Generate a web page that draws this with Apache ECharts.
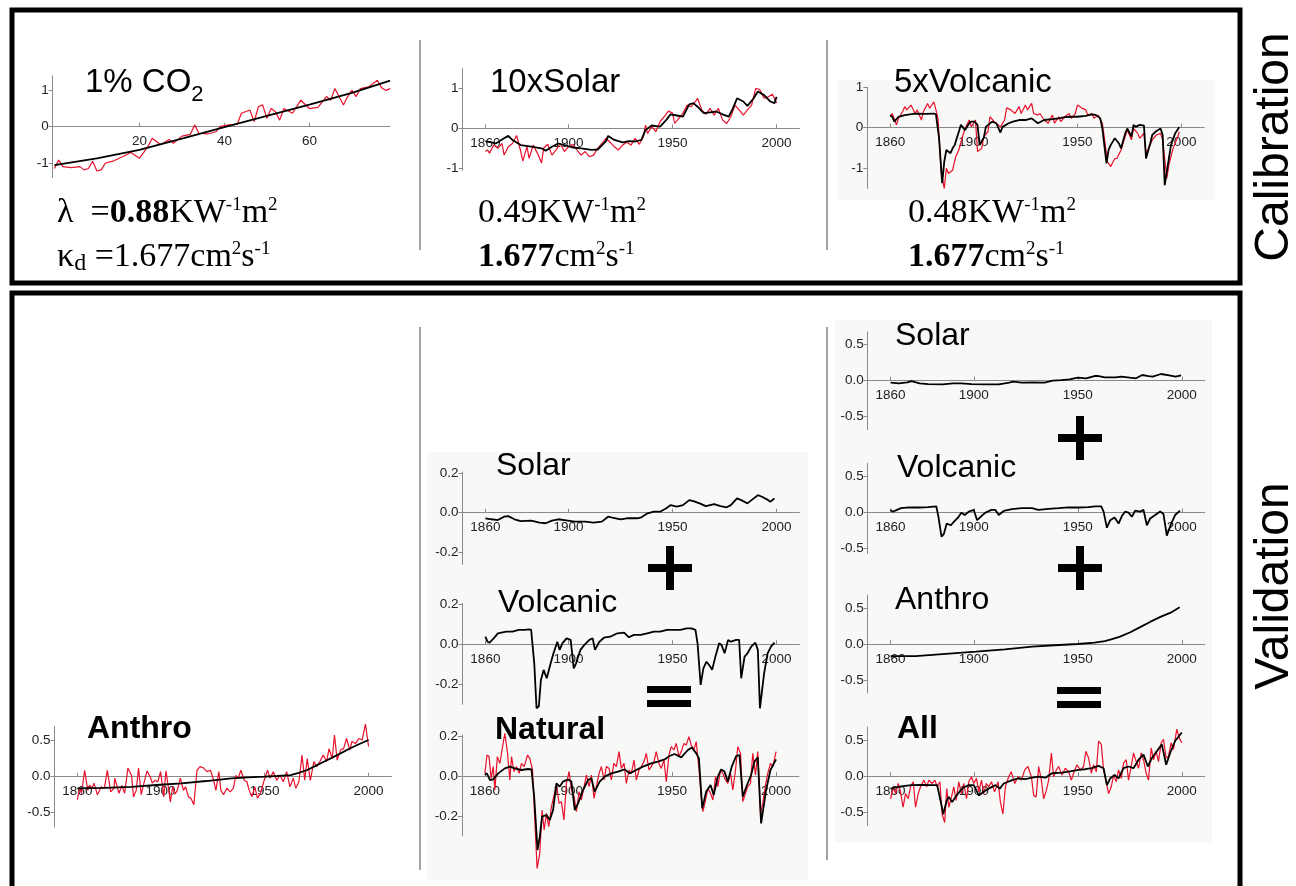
<!DOCTYPE html>
<html><head><meta charset="utf-8">
<script src="https://cdn.jsdelivr.net/npm/echarts@6/dist/echarts.min.js"></script>
<style>html,body{margin:0;padding:0;background:#fff}#c{width:1296px;height:886px}</style>
</head><body><div id="c"></div><script>
// ---------- tick labels ----------
const co2Ticks = [20, 40, 60];
const yearTicks = [1860, 1900, 1950, 2000];
const calTicks = [-1, 0, 1];
const halfTicks = [-0.5, 0, 0.5];
const fifthTicks = [-0.2, 0, 0.2];

// ---------- calibration: 1% CO2 ----------
const co2Red = [[0,-1.15],[1,-0.92],[2,-1.1],[4,-1.13],[6,-1.1],[7,-1.19],[8,-1.15],[9,-0.95],[10,-1.22],[11,-1.19],[12,-1.0],[14,-0.94],[16,-0.83],[18,-0.71],[20,-0.87],[22,-0.55],[23,-0.32],[25,-0.5],[27,-0.35],[28,-0.46],[30,-0.26],[32,-0.21],[33,0.05],[34,-0.18],[36,-0.2],[38,-0.14],[39,0],[41,0.05],[43,0.06],[44,0.37],[46,0.46],[47,0.14],[48,0.55],[49,0.6],[50,0.23],[51,0.5],[52,0.41],[53,0.18],[54,0.5],[56,0.37],[58,0.73],[60,0.5],[62,0.53],[64,0.83],[65,0.73],[66,1.05],[68,0.6],[69,0.83],[70,1.0],[71,0.83],[72,1.05],[74,1.1],[76,1.28],[77,1.07],[78,1.0],[79,1.05]];
const co2Black = [[0,-1.06],[10,-0.87],[20,-0.64],[30,-0.33],[40,-0.01],[50,0.3],[60,0.61],[70,0.93],[79,1.27]];

// ---------- calibration: 10x Solar ----------
const solar10Red = [[1860,-0.58],[1861,-0.54],[1862,-0.62],[1864,-0.42],[1866,-0.5],[1868,-0.38],[1869,-0.67],[1871,-0.46],[1873,-0.38],[1875,-0.18],[1877,-0.58],[1878,-0.82],[1880,-0.46],[1881,-0.75],[1883,-0.42],[1885,-0.62],[1887,-0.87],[1888,-0.5],[1890,-0.4],[1892,-0.67],[1894,-0.54],[1896,-0.38],[1898,-0.58],[1900,-0.46],[1902,-0.4],[1904,-0.54],[1906,-0.67],[1908,-0.58],[1910,-0.71],[1912,-0.67],[1914,-0.5],[1916,-0.38],[1918,-0.25],[1920,-0.35],[1922,-0.46],[1924,-0.54],[1926,-0.42],[1928,-0.35],[1930,-0.42],[1932,-0.25],[1934,-0.4],[1936,-0.21],[1937,0.08],[1938,-0.13],[1940,0.04],[1942,-0.08],[1944,0.17],[1946,0.29],[1948,0.43],[1950,0.38],[1951,0.12],[1953,0.25],[1955,0.38],[1957,0.58],[1959,0.54],[1961,0.67],[1962,0.75],[1964,0.46],[1966,0.35],[1968,0.5],[1970,0.33],[1972,0.5],[1974,0.21],[1976,0.12],[1978,0.29],[1980,0.58],[1982,0.46],[1984,0.33],[1986,0.46],[1988,0.58],[1990,1.0],[1992,0.96],[1994,0.75],[1996,0.79],[1998,0.85],[2000,0.63]];
const solar10Black = [[1860,-0.32],[1863,-0.35],[1865,-0.38],[1869,-0.25],[1871,-0.19],[1873,-0.29],[1877,-0.42],[1882,-0.46],[1887,-0.5],[1889,-0.56],[1892,-0.46],[1895,-0.38],[1898,-0.42],[1902,-0.48],[1906,-0.5],[1911,-0.54],[1914,-0.53],[1918,-0.32],[1919,-0.19],[1922,-0.29],[1926,-0.35],[1929,-0.32],[1932,-0.33],[1935,-0.29],[1937,-0.04],[1940,0.07],[1944,0.04],[1947,0.21],[1949,0.35],[1952,0.32],[1955,0.29],[1958,0.6],[1960,0.63],[1962,0.54],[1965,0.38],[1968,0.4],[1971,0.42],[1974,0.35],[1977,0.29],[1979,0.5],[1981,0.75],[1984,0.67],[1986,0.56],[1989,0.75],[1991,0.92],[1994,0.83],[1997,0.67],[1999,0.63],[2000,0.79]];

// ---------- calibration: 5x Volcanic ----------
const volc5Red = [[1860,0.27],[1861,0.35],[1863,0.07],[1864,0.23],[1866,0.4],[1867,0.52],[1868,0.44],[1870,0.56],[1872,0.35],[1873,0.44],[1875,0.19],[1876,0.4],[1878,0.6],[1879,0.48],[1881,0.64],[1882,0.44],[1883,0.23],[1884.5,-1.09],[1886,-1.5],[1887,-1.0],[1888,-1.13],[1890,-1.05],[1891.5,-0.72],[1893,-0.55],[1895,-0.18],[1896,-0.02],[1898,0.19],[1899,0.02],[1901,0.19],[1902,-0.59],[1904,-0.51],[1905,-0.22],[1907,-0.1],[1908,0.27],[1910,0.15],[1912,0.07],[1913,0.02],[1915,0.19],[1916,0.49],[1918,0.44],[1920,0.35],[1922,0.52],[1923,0.35],[1925,0.56],[1926,0.44],[1928,0.6],[1929,0.35],[1931,0.31],[1932,0.35],[1934,0.19],[1936,0.11],[1938,0.31],[1939,0.11],[1941,0.27],[1942,0.15],[1944,0.27],[1946,0.35],[1947,0.23],[1949,0.35],[1950,0.56],[1952,0.49],[1954,0.44],[1955,0.31],[1957,0.35],[1958,0.23],[1960,0.31],[1962,0.11],[1963,-0.26],[1964.5,-0.84],[1966,-0.96],[1968,-0.76],[1969,-0.76],[1971,-0.55],[1972.5,-0.3],[1974,-0.06],[1976,-0.3],[1977,-0.02],[1979,-0.14],[1980,-0.26],[1982,-0.14],[1983,-0.63],[1985,-0.43],[1986,-0.3],[1988,-0.18],[1990,-0.14],[1991,-0.3],[1993,-1.25],[1994,-0.92],[1996,-0.51],[1998,-0.26],[1999,-0.1]];
const volc5Black = [[1860,0.31],[1861,0.27],[1862,0.15],[1864,0.27],[1867,0.31],[1872,0.35],[1877,0.34],[1881,0.35],[1882,0.33],[1883.5,-0.26],[1885,-1.37],[1886,-0.84],[1887,-0.55],[1889,-0.63],[1890,-0.51],[1891,-0.43],[1893,-0.1],[1894,0.07],[1896,-0.06],[1898,0.11],[1899,0.15],[1900.5,0.15],[1902,0.07],[1903,-0.43],[1905,-0.25],[1906,0.02],[1909,0.15],[1911,0.11],[1913,-0.12],[1914,0.02],[1917,0.11],[1919,0.15],[1922,0.19],[1925,0.19],[1928,0.23],[1931,0.11],[1934,0.19],[1938,0.21],[1941,0.23],[1944,0.26],[1947,0.27],[1950,0.27],[1954,0.29],[1957,0.33],[1959,0.31],[1961,0.23],[1962,-0.02],[1964,-0.88],[1965,-0.55],[1966,-0.43],[1968,-0.26],[1970,-0.39],[1971,-0.51],[1973,-0.14],[1974,-0.02],[1976,-0.22],[1977,0.07],[1978,0.02],[1980,0.07],[1982,0.05],[1983,-0.76],[1985,-0.39],[1986,-0.18],[1988,-0.08],[1990,-0.02],[1991,-0.18],[1992,-1.42],[1994,-0.76],[1995,-0.43],[1997,-0.14],[1999,0.02]];

// ---------- validation: Anthro (left) ----------
const anthroRed = [[1860,-0.32],[1861,-0.16],[1862,-0.23],[1863.5,0.09],[1865,-0.19],[1866,-0.12],[1867,-0.16],[1868,-0.09],[1869.6,-0.25],[1871.5,-0.14],[1873,-0.16],[1874.4,0.09],[1876,-0.21],[1877.6,-0.16],[1878,-0.02],[1880,-0.23],[1881.4,-0.12],[1882.7,-0.23],[1884.3,0.12],[1886,0.02],[1887,-0.28],[1888.3,-0.19],[1889.4,0.12],[1890.7,-0.25],[1892,-0.09],[1893.5,0.08],[1895,0],[1896,-0.09],[1897.4,-0.05],[1898.7,-0.07],[1900,0.07],[1901.5,-0.28],[1902.6,0.08],[1903.8,-0.16],[1904.7,-0.35],[1905.8,-0.14],[1907,-0.24],[1908,-0.19],[1909.5,-0.02],[1911,-0.19],[1912,-0.14],[1913.4,-0.28],[1914.6,-0.3],[1916,-0.39],[1917.5,0.09],[1919,0.14],[1920.7,0.12],[1922.3,0.07],[1924,0.09],[1925.5,-0.05],[1926.6,-0.19],[1928,0.07],[1929,-0.19],[1930.3,-0.25],[1931.9,-0.16],[1933.5,-0.21],[1935,-0.16],[1936.2,0.02],[1937.3,-0.02],[1938.6,0.09],[1940.2,-0.05],[1941.5,-0.07],[1942.6,-0.19],[1943.9,-0.28],[1945.3,-0.14],[1946.6,-0.3],[1948,-0.23],[1949.8,-0.05],[1951.4,0.09],[1952.6,-0.02],[1954.2,0.07],[1955.8,-0.05],[1957.4,0.02],[1959,-0.07],[1960.6,0.07],[1962.2,-0.14],[1963.8,-0.02],[1965,-0.16],[1966.5,-0.07],[1968,0.3],[1969.3,-0.05],[1970.5,0.25],[1972,-0.05],[1973.7,0.21],[1975,0.14],[1976.6,0.21],[1978.2,0.3],[1979.8,0.21],[1981,0.39],[1982.5,0.25],[1983.6,0.58],[1984.9,0.23],[1986.5,0.37],[1988,0.39],[1989.4,0.53],[1991,0.37],[1992,0.49],[1993.7,0.46],[1995.3,0.53],[1996.9,0.51],[1998.5,0.73],[2000,0.42]];
const anthroBlack = [[1860,-0.162],[1873,-0.155],[1886,-0.14],[1898,-0.115],[1910,-0.093],[1922,-0.06],[1934,-0.023],[1942,-0.01],[1950,0],[1956,0.01],[1962.5,0.023],[1966,0.05],[1970.5,0.093],[1974.5,0.15],[1978.5,0.208],[1982.5,0.265],[1986.5,0.324],[1990.5,0.385],[1994.5,0.44],[2000,0.51]];

// ---------- validation: middle column ----------
const solarMid = [[1860,-0.028],[1863,-0.033],[1866,-0.037],[1869,-0.02],[1871,-0.017],[1874,-0.033],[1877,-0.042],[1882,-0.04],[1886,-0.05],[1889,-0.053],[1892,-0.04],[1895,-0.033],[1898,-0.037],[1903,-0.045],[1908,-0.045],[1912,-0.05],[1916,-0.045],[1919,-0.02],[1921,-0.025],[1925,-0.033],[1928,-0.028],[1933,-0.028],[1935,-0.023],[1938,-0.003],[1941,0.005],[1944,0.005],[1947,0.022],[1949,0.038],[1952,0.03],[1955,0.038],[1958,0.063],[1960,0.058],[1963,0.047],[1966,0.033],[1970,0.043],[1973,0.033],[1976,0.027],[1978,0.038],[1981,0.072],[1983,0.063],[1986,0.047],[1989,0.072],[1991,0.088],[1993,0.08],[1996,0.063],[1997,0.055],[1999,0.072]];
const volcMid = [[1860,0.038],[1861,0.013],[1862,0.008],[1864,0.03],[1866,0.055],[1870,0.063],[1873,0.063],[1876,0.072],[1879,0.072],[1881,0.075],[1882,0.072],[1883.5,-0.095],[1884.6,-0.32],[1885.7,-0.31],[1886.7,-0.178],[1888,-0.128],[1889.5,-0.17],[1891,-0.11],[1892.5,-0.053],[1894.6,0.013],[1895.7,-0.028],[1897,0.005],[1899,0.03],[1901,0.022],[1902.5,-0.12],[1903.6,-0.095],[1905.7,-0.028],[1907.6,-0.003],[1910,0.022],[1911.6,0.03],[1912.7,-0.028],[1914.8,0.013],[1917,0.033],[1920,0.038],[1923.5,0.055],[1926.7,0.058],[1929,0.035],[1931.4,0.047],[1934.6,0.047],[1937.8,0.055],[1941,0.063],[1944,0.063],[1947.3,0.072],[1950.5,0.072],[1953.7,0.072],[1956.8,0.08],[1959,0.08],[1961,0.072],[1962,0.005],[1963.5,-0.203],[1964.8,-0.12],[1966.3,-0.087],[1968,-0.11],[1969,-0.128],[1970.8,-0.053],[1972.4,0.005],[1973.5,-0.003],[1975,-0.045],[1976.7,0.022],[1978,0.013],[1980.6,0.022],[1982,0.022],[1983,-0.17],[1984.6,-0.062],[1986,-0.045],[1987.8,-0.012],[1989.8,0.008],[1991,-0.028],[1992,-0.32],[1994,-0.145],[1995.7,-0.045],[1997.3,-0.012],[1999,0.008]];
const naturalRed = [[1860,0.013],[1861,0.105],[1862,0.097],[1863,-0.012],[1864,0.047],[1864.8,-0.07],[1866,0.097],[1867.2,0.063],[1868.5,0.147],[1869.6,0.213],[1870.9,0.113],[1872,-0.02],[1872.8,0.097],[1874,0.022],[1875.2,0.047],[1876.5,0.013],[1877.6,0.063],[1878.9,0.047],[1880.5,0.105],[1881.6,0.088],[1882.9,0.03],[1884,-0.22],[1885.1,-0.462],[1886.4,-0.387],[1887.5,-0.17],[1888.5,-0.27],[1889.6,-0.187],[1890.7,-0.253],[1892,-0.153],[1893.3,-0.095],[1894.4,-0.045],[1895.7,-0.137],[1896.8,-0.128],[1898,-0.22],[1899.2,-0.037],[1900.5,0.022],[1901.6,-0.07],[1902.9,-0.103],[1904,-0.178],[1905.3,-0.078],[1906.4,-0.12],[1907.7,-0.053],[1908.8,0.005],[1910.1,-0.053],[1911.2,0.005],[1912.5,-0.112],[1913.6,-0.053],[1914.9,0.013],[1916,0.047],[1917.3,-0.02],[1918.4,0.047],[1919.7,0.038],[1920.8,-0.02],[1922,0.063],[1923.2,0.047],[1924.5,0.122],[1925.6,0.038],[1926.9,0.063],[1928,-0.037],[1929.3,0.03],[1930.4,0.013],[1931.7,0.08],[1932.8,-0.02],[1934.1,0.03],[1935.2,0.047],[1936.5,0.072],[1937.6,0.113],[1938.9,0.03],[1940,0.047],[1941.3,0.072],[1942.4,0.122],[1943.7,0.063],[1944.8,0.038],[1946.1,0.08],[1947.2,-0.028],[1948.5,0.105],[1949.6,0.147],[1950.9,0.13],[1952,0.163],[1953.3,0.097],[1954.4,0.122],[1955.7,0.163],[1956.8,0.155],[1958.1,0.197],[1959.2,0.155],[1960.5,0.13],[1961.6,0.172],[1962.9,0.038],[1964,-0.103],[1964.8,-0.178],[1966.1,-0.12],[1967.2,-0.062],[1968.5,-0.087],[1969.6,-0.12],[1970.9,-0.003],[1972,-0.053],[1973.3,0.03],[1974.4,0.013],[1975.7,-0.02],[1976.8,-0.037],[1978.1,0.013],[1979.2,-0.07],[1980.5,0.03],[1981.6,0.147],[1982.9,0.113],[1984,-0.128],[1985.3,-0.087],[1986.4,-0.053],[1987.7,-0.037],[1988.8,0.113],[1990.1,0.005],[1991.2,0.122],[1992.5,-0.187],[1993.6,-0.137],[1994.9,-0.045],[1996,0.013],[1997.3,0.063],[1998.4,0.047],[2000,0.122]];
const naturalBlack = [[1860,0.005],[1861,0.013],[1862.4,-0.02],[1864,-0.017],[1866.4,0.013],[1869.6,0.038],[1872,0.047],[1874.4,0.038],[1877.6,0.03],[1880.8,0.035],[1882.4,0.033],[1883.7,-0.103],[1885.3,-0.37],[1886.4,-0.303],[1887.5,-0.203],[1889.6,-0.195],[1891.2,-0.22],[1892.8,-0.17],[1894.4,-0.037],[1896,-0.053],[1897.6,-0.028],[1900,-0.017],[1901.6,-0.028],[1903.2,-0.17],[1904.8,-0.137],[1907.2,-0.07],[1909.6,-0.02],[1911.2,-0.012],[1912.8,-0.078],[1915.2,-0.028],[1917.6,-0.003],[1920.8,0.013],[1924,0.022],[1927.2,0.033],[1929.6,0.013],[1932.8,0.03],[1936,0.047],[1940,0.063],[1943.2,0.072],[1946.4,0.083],[1948.8,0.1],[1951.2,0.11],[1954.4,0.093],[1957.6,0.13],[1959.5,0.143],[1961.6,0.113],[1962.9,0.088],[1964.5,-0.162],[1966.4,-0.078],[1968.5,-0.045],[1970,-0.095],[1972,-0.003],[1973.6,0.033],[1975.2,0.022],[1976.8,-0.028],[1978.7,0.047],[1980.8,0.1],[1982.4,0.105],[1984,-0.103],[1986,-0.045],[1988,0.005],[1989.6,0.072],[1991.2,0.093],[1992.8,-0.237],[1995.2,-0.07],[1997.3,0.03],[2000,0.083]];

// ---------- validation: right column ----------
const solarRight = [[1860,-0.028],[1864,-0.037],[1868,-0.023],[1870,-0.005],[1874,-0.037],[1878,-0.047],[1885,-0.051],[1890,-0.037],[1894,-0.037],[1899,-0.047],[1906,-0.051],[1912,-0.051],[1917,-0.028],[1919,-0.014],[1923,-0.028],[1928,-0.023],[1934,-0.028],[1938,0],[1942,0.009],[1946,0.019],[1950,0.042],[1954,0.033],[1958,0.065],[1960,0.065],[1963,0.047],[1968,0.047],[1971,0.056],[1975,0.042],[1978,0.033],[1981,0.079],[1984,0.065],[1986,0.056],[1990,0.093],[1994,0.075],[1997,0.056],[1999.7,0.075]];
const volcRight = [[1860,0.033],[1861,0.01],[1862,0.019],[1865,0.057],[1869,0.067],[1874,0.067],[1878,0.071],[1882,0.081],[1883,-0.062],[1884.5,-0.34],[1885.6,-0.3],[1887,-0.157],[1889,-0.18],[1890.4,-0.133],[1892.5,-0.071],[1894,-0.005],[1895.7,-0.038],[1897.6,0.01],[1900,0.033],[1901.6,-0.11],[1903.7,-0.052],[1905.6,-0.005],[1908.5,0.033],[1910.4,0.033],[1912,-0.038],[1914.4,0.019],[1918.4,0.043],[1923,0.057],[1928,0.057],[1931,0.033],[1936,0.048],[1940.8,0.057],[1945.6,0.067],[1950.4,0.067],[1955,0.071],[1958.4,0.081],[1961.3,0.081],[1962.4,0.01],[1964,-0.214],[1965.6,-0.11],[1967.7,-0.071],[1969.6,-0.157],[1971.2,-0.052],[1972.8,0.01],[1974.4,-0.005],[1976,-0.062],[1977.6,0.024],[1980,0.01],[1981.6,0.033],[1983.2,-0.18],[1984.8,-0.086],[1987.2,-0.038],[1989.6,0.01],[1991.2,-0.024],[1992.8,-0.324],[1994.9,-0.157],[1996.8,-0.038],[1999.2,0.024]];
const anthroRight = [[1860,-0.168],[1872,-0.168],[1885,-0.14],[1901,-0.107],[1915,-0.075],[1928,-0.037],[1941,-0.014],[1950,0],[1958,0.019],[1963,0.04],[1966,0.065],[1970,0.1],[1975,0.16],[1980,0.235],[1985,0.31],[1990,0.38],[1995,0.44],[1999,0.51]];
const allRed = [[1860,-0.316],[1861.3,-0.15],[1862.4,-0.245],[1863.7,-0.104],[1864.8,-0.22],[1866,-0.434],[1867.2,-0.245],[1868.5,-0.316],[1869.6,-0.15],[1870.9,-0.08],[1872,-0.434],[1873.3,-0.245],[1874.4,-0.15],[1876,-0.057],[1877.3,-0.15],[1878.4,-0.057],[1880,-0.104],[1881.3,-0.057],[1882.4,-0.15],[1883.7,-0.08],[1884.8,-0.528],[1886,-0.646],[1887,-0.175],[1888,-0.434],[1889.3,-0.29],[1890.4,-0.15],[1891.5,-0.34],[1892.8,-0.08],[1894,-0.245],[1895.2,-0.104],[1896.5,-0.316],[1897.6,-0.08],[1898.9,-0.01],[1900,-0.104],[1901.3,-0.033],[1902.4,-0.22],[1903.7,-0.057],[1904.8,-0.245],[1906,-0.104],[1907.2,-0.15],[1908.5,-0.08],[1910,-0.22],[1911.7,-0.08],[1912.8,-0.363],[1914,-0.528],[1915.2,-0.15],[1916.5,-0.033],[1918,0.06],[1919.7,-0.104],[1921.3,-0.01],[1922.9,-0.057],[1924.5,0.085],[1926,0.132],[1927.7,-0.01],[1928.8,-0.27],[1930,-0.29],[1931.2,0.132],[1932.5,-0.057],[1933.6,-0.316],[1934.9,-0.2],[1936,-0.057],[1937.3,0.32],[1938.4,-0.01],[1939.7,0.085],[1940.8,0.132],[1942.4,0.014],[1944,0.108],[1945.6,0.06],[1946.9,-0.057],[1948,0.038],[1949.6,0.156],[1951.2,0.085],[1952.8,0.132],[1953.9,0.344],[1955.2,0.25],[1956.5,0.038],[1957.6,0.156],[1958.9,0.06],[1960,0.486],[1961.3,0.439],[1962.4,0.085],[1963.5,-0.057],[1964.8,-0.245],[1966.1,-0.15],[1967.2,0.014],[1968.5,-0.08],[1969.6,0.085],[1970.9,-0.033],[1972,0.18],[1973.3,0.226],[1974.4,-0.057],[1975.7,0.132],[1976.8,0.32],[1978.1,0.2],[1979.2,0.108],[1980.5,0.32],[1981.6,0.226],[1982.9,0.038],[1984,-0.057],[1985.3,0.39],[1986.4,0.226],[1987.7,0.344],[1988.8,0.2],[1990.1,0.462],[1991.2,0.51],[1992.5,0.25],[1993.6,0.274],[1994.9,0.462],[1996,0.368],[1997.6,0.65],[1998.7,0.533],[2000,0.462]];
const allBlack = [[1860,-0.175],[1862,-0.16],[1866,-0.14],[1870,-0.127],[1875,-0.123],[1880,-0.127],[1882.4,-0.127],[1884,-0.34],[1885.3,-0.53],[1887,-0.34],[1888,-0.29],[1889.6,-0.363],[1891.2,-0.29],[1893.6,-0.2],[1895,-0.16],[1897.6,-0.127],[1900,-0.127],[1902.4,-0.27],[1904.8,-0.22],[1907.2,-0.175],[1910.4,-0.127],[1912.5,-0.175],[1914.4,-0.104],[1918.4,-0.057],[1921.6,-0.033],[1924.8,-0.042],[1928,-0.024],[1931.2,-0.01],[1934.4,-0.024],[1937.6,0.038],[1942.4,0.047],[1945.6,0.06],[1950.4,0.085],[1953.6,0.094],[1956.8,0.108],[1960,0.14],[1962.4,0.108],[1964,-0.127],[1965.6,-0.033],[1967.7,0.014],[1969.6,-0.033],[1972,0.108],[1974.4,0.132],[1976.8,0.108],[1979.2,0.226],[1981.6,0.297],[1983.7,0.132],[1985.6,0.25],[1988,0.344],[1990.4,0.439],[1992.5,0.156],[1994.4,0.32],[1996.8,0.486],[2000,0.604]];

// ---------- layout ----------
const RED = '#e8102b', BLACK = '#000000';
const SANS = 'Liberation Sans, Arial, Helvetica, sans-serif';
const SERIF = 'Liberation Serif, Times New Roman, serif';
const YR = {xmin: 1849, xmax: 2011, ppx: 2.08, xt: yearTicks};
const panels = [
  {left: 52.7, zero: 126.7, ppu: 36.3, ymin: -1.4, ymax: 1.4, xmin: -0.4, xmax: 79, ppx: 4.25, xt: co2Ticks, yt: calTicks, dec: 0, lines: [[co2Red, RED], [co2Black, BLACK]]},
  Object.assign({left: 462.5, zero: 128.3, ppu: 40, ymin: -1.05, ymax: 1.5, yt: calTicks, dec: 0, lines: [[solar10Red, RED], [solar10Black, BLACK]]}, YR),
  Object.assign({left: 867.3, zero: 127.7, ppu: 40.5, ymin: -1.5, ymax: 1.0, yt: calTicks, dec: 0, lines: [[volc5Red, RED], [volc5Black, BLACK]]}, YR),
  Object.assign({left: 54.5, zero: 776.7, ppu: 72, ymin: -0.7, ymax: 0.7, yt: halfTicks, dec: 1, lines: [[anthroRed, RED], [anthroBlack, BLACK]]}, YR),
  Object.assign({left: 462.5, zero: 512.7, ppu: 199, ymin: -0.26, ymax: 0.205, yt: fifthTicks, dec: 1, lines: [[solarMid, BLACK]]}, YR),
  Object.assign({left: 462.5, zero: 644.3, ppu: 200, ymin: -0.3, ymax: 0.205, yt: fifthTicks, dec: 1, lines: [[volcMid, BLACK]]}, YR),
  Object.assign({left: 462.0, zero: 776, ppu: 200, ymin: -0.3, ymax: 0.205, yt: fifthTicks, dec: 1, lines: [[naturalRed, RED], [naturalBlack, BLACK]]}, YR),
  Object.assign({left: 867.7, zero: 380.7, ppu: 72, ymin: -0.68, ymax: 0.68, yt: halfTicks, dec: 1, lines: [[solarRight, BLACK]]}, YR),
  Object.assign({left: 867.7, zero: 512.3, ppu: 72, ymin: -0.57, ymax: 0.68, yt: halfTicks, dec: 1, lines: [[volcRight, BLACK]]}, YR),
  Object.assign({left: 867.7, zero: 644, ppu: 72, ymin: -0.68, ymax: 0.68, yt: halfTicks, dec: 1, lines: [[anthroRight, BLACK]]}, YR),
  Object.assign({left: 867.7, zero: 776, ppu: 72, ymin: -0.69, ymax: 0.68, yt: halfTicks, dec: 1, lines: [[allRed, RED], [allBlack, BLACK]]}, YR)
];

const grid = [], xAxis = [], yAxis = [], series = [];
const AX = '#8a8a8a';
panels.forEach((p, i) => {
  grid.push({left: p.left, top: p.zero - p.ymax * p.ppu, width: (p.xmax - p.xmin) * p.ppx,
             height: (p.ymax - p.ymin) * p.ppu, containLabel: false, outerBoundsMode: 'none'});
  xAxis.push({gridIndex: i, type: 'value', min: p.xmin, max: p.xmax, position: 'bottom',
    offset: p.ymin * p.ppu,
    axisLine: {show: true, onZero: false, lineStyle: {color: AX, width: 1}},
    axisTick: {show: true, inside: true, length: 4, customValues: p.xt, lineStyle: {color: AX}},
    axisLabel: {show: true, customValues: p.xt, margin: 8, fontSize: 13.5, color: '#222', fontFamily: SANS,
      formatter: v => String(Math.round(v))},
    splitLine: {show: false}});
  yAxis.push({gridIndex: i, type: 'value', min: p.ymin, max: p.ymax,
    axisLine: {show: true, onZero: false, lineStyle: {color: AX, width: 1}},
    axisTick: {show: true, inside: false, length: 4, customValues: p.yt, lineStyle: {color: AX}},
    axisLabel: {show: true, customValues: p.yt, margin: 4, fontSize: 13.5, color: '#222', fontFamily: SANS,
      formatter: v => (Math.abs(v) < 1e-9 ? 0 : v).toFixed(p.dec)},
    splitLine: {show: false}});
  p.lines.forEach(([d, c]) => {
    series.push({type: 'line', xAxisIndex: i, yAxisIndex: i, data: d, showSymbol: false, symbol: 'none',
      clip: false, silent: true, z: c === BLACK ? 4 : 3,
      lineStyle: {color: c, width: c === BLACK ? 1.8 : 1.2}});
  });
});

// ---------- decorations ----------
const G = [];
function rect(x, y, w, h, fill, z) { G.push({type: 'rect', z: z || 0, silent: true, shape: {x, y, width: w, height: h}, style: {fill}}); }
function frame(x, y, w, h) { G.push({type: 'rect', z: 10, silent: true, shape: {x, y, width: w, height: h}, style: {fill: 'none', stroke: '#000', lineWidth: 5}}); }
function vline(x, y1, y2) { G.push({type: 'line', z: 1, silent: true, shape: {x1: x, y1, x2: x, y2}, style: {stroke: '#444', lineWidth: 1}}); }
function txt(x, y, text, opt) {
  G.push({type: 'text', z: 20, silent: true, x, y, rotation: opt.rotation || 0,
    style: Object.assign({text, fill: '#000', fontFamily: SANS, fontSize: 32, align: 'left', verticalAlign: 'middle',
      textAlign: 'left', textVerticalAlign: 'middle'}, opt.style || {})});
}
// light backgrounds
rect(838, 80, 377, 120, '#f8f8f6', -1);
rect(427, 452, 381, 428, '#f8f8f6', -1);
rect(835, 320, 377, 522, '#f8f8f6', -1);
// frames
frame(12, 10, 1228, 273);
frame(12, 293, 1228, 640);
// dividers
vline(420, 40, 250); vline(827, 40, 250);
vline(420, 327, 870); vline(827, 327, 860);
// plus / equals signs
function plus(cx, cy) { rect(cx - 22, cy - 4, 44, 8, '#000', 15); rect(cx - 4, cy - 22, 8, 44, '#000', 15); }
function equals(x, y) { rect(x, y, 44, 7, '#000', 15); rect(x, y + 14, 44, 7, '#000', 15); }
plus(670, 568); equals(647, 686);
plus(1080, 438); plus(1080, 568); equals(1057, 687);

// titles
const titleRich = {t: {fontFamily: SANS, fontSize: 33, lineHeight: 36}, s: {fontFamily: SANS, fontSize: 22, lineHeight: 22, padding: [24, 0, 0, 0]}};
txt(85, 83, '{t|1% CO}{s|2}', {style: {rich: titleRich}});
txt(490, 83, '10xSolar', {style: {fontSize: 33}});
txt(894, 83, '5xVolcanic', {style: {fontSize: 33}});
txt(895, 336, 'Solar', {});
txt(897, 468, 'Volcanic', {});
txt(895, 600, 'Anthro', {});
txt(897, 729, 'All', {style: {fontWeight: 'bold'}});
txt(496, 466, 'Solar', {});
txt(498, 603, 'Volcanic', {});
txt(495, 730, 'Natural', {style: {fontWeight: 'bold'}});
txt(87, 729, 'Anthro', {style: {fontWeight: 'bold'}});

// parameter text (Times)
const R = {
  n: {fontFamily: SERIF, fontSize: 34, lineHeight: 38},
  b: {fontFamily: SERIF, fontSize: 34, lineHeight: 38, fontWeight: 'bold'},
  g: {fontFamily: SERIF, fontSize: 34, lineHeight: 38},
  sup: {fontFamily: SERIF, fontSize: 19, lineHeight: 19, padding: [0, 0, 15, 0]},
  sub: {fontFamily: SERIF, fontSize: 24, lineHeight: 24, padding: [14, 0, 0, 0]}
};
txt(57, 213, '{g|λ}{n|  =}{b|0.88}{n|KW}{sup|-1}{n|m}{sup|2}', {style: {rich: R}});
txt(57, 257, '{g|κ}{sub|d}{n| =1.677cm}{sup|2}{n|s}{sup|-1}', {style: {rich: R}});
txt(478, 213, '{n|0.49KW}{sup|-1}{n|m}{sup|2}', {style: {rich: R}});
txt(478, 257, '{b|1.677}{n|cm}{sup|2}{n|s}{sup|-1}', {style: {rich: R}});
txt(908, 213, '{n|0.48KW}{sup|-1}{n|m}{sup|2}', {style: {rich: R}});
txt(908, 257, '{b|1.677}{n|cm}{sup|2}{n|s}{sup|-1}', {style: {rich: R}});

// side labels
txt(1275, 147, 'Calibration', {rotation: Math.PI / 2, style: {fontSize: 48, align: 'center', textAlign: 'center'}});
txt(1275, 586, 'Validation', {rotation: Math.PI / 2, style: {fontSize: 48, align: 'center', textAlign: 'center'}});

const chart = echarts.init(document.getElementById('c'), null, {renderer: 'canvas'});
chart.setOption({animation: false, backgroundColor: '#fff', grid, xAxis, yAxis, series, graphic: {elements: G}});
</script></body></html>
